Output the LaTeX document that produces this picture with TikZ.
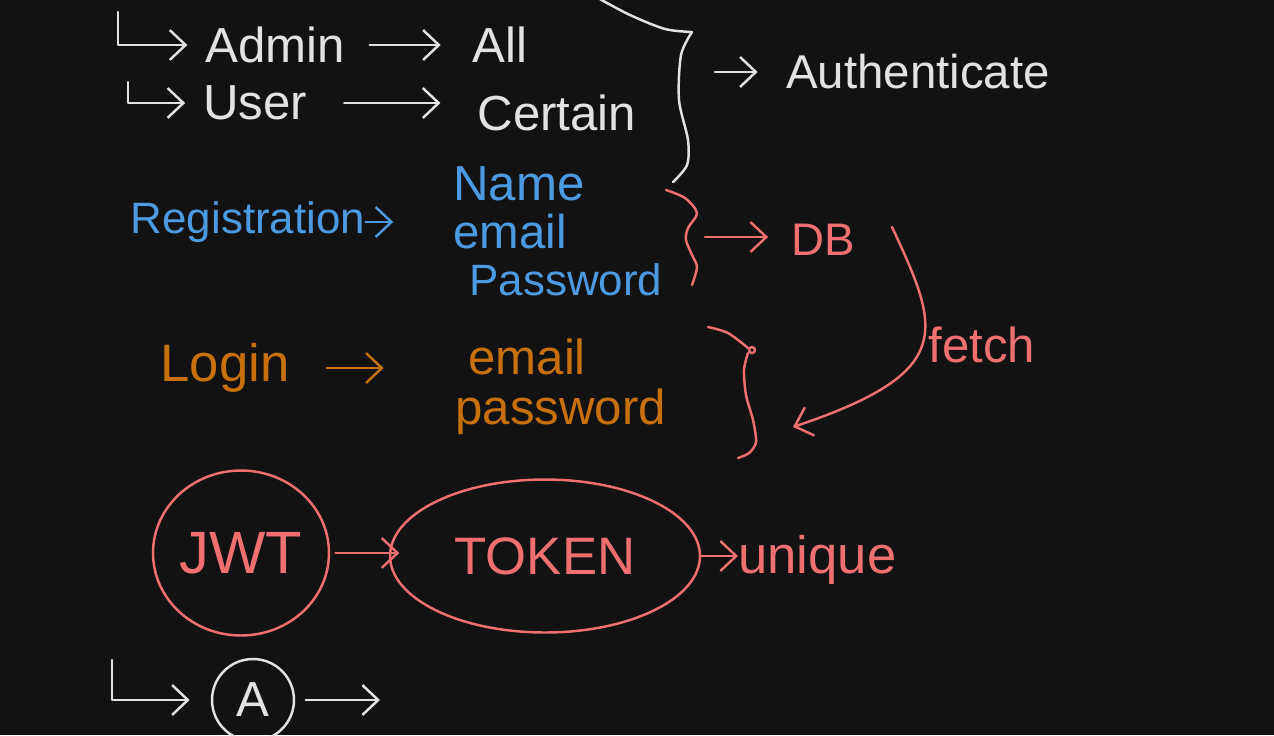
\documentclass[tikz,border=0pt]{standalone}
\usepackage{fontspec}
\setmainfont{Liberation Sans}
\usetikzlibrary{arrows.meta,shapes.geometric}

\definecolor{board}{HTML}{121212}
\definecolor{chalk}{HTML}{E2E2E2}
\definecolor{inkblue}{HTML}{4C9BE2}
\definecolor{inkorange}{HTML}{C8700C}
\definecolor{inkred}{HTML}{F07070}

\tikzset{
  >={Straight Barb[length=9pt,width=17pt]},
  pen/.style={line width=1.4pt, line cap=round, line join=round},
  word/.style={inner sep=0pt, font=\fontsize{#1}{#1}\selectfont},
  word/.default=28,
  blob/.style={ellipse, draw, pen, inkred},
}

\begin{document}
\begin{tikzpicture}[x=0.02cm,y=-0.02cm]
                \useasboundingbox (0,0) rectangle (1274,735);
                \fill[board] (0,0) rectangle (1274,735);

                \node[word, chalk] (admin) at (275,45) {Admin};
                \node[word, chalk] (all) at (500,45) {All};
                \node[word, chalk] (user) at (255,103) {User};
                \node[word, chalk] (certain) at (557,113) {Certain};
                \node[word=27, chalk] (auth) at (918,72) {Authenticate};
                \coordinate (adminL) at (118,12);
                \coordinate (userL) at (128,82);
                \coordinate (wb) at (715,72);

                \draw[pen, chalk, ->] (adminL) |- ([xshift=-10pt]admin.west);
                \draw[pen, chalk, ->] (userL) |- ([xshift=-10pt]user.west);
                \draw[pen, chalk, ->, shorten <=14pt, shorten >=18pt] (admin.east) -- (admin.east -| all.west);
                \draw[pen, chalk, ->, shorten <=21pt, shorten >=21pt] (user.east) -- (user.east -| certain.west);
                \draw[pen, chalk] plot[smooth] coordinates {(598,-2) (630,15) (665,29) (692,32)};
                \draw[pen, chalk] plot[smooth] coordinates {(692,32) (681,55) (679,100) (688,140) (687,165) (673,182)};
                \draw[pen, chalk, ->, shorten >=16pt] (wb) -- (wb -| auth.west);

                \node[word=25, inkblue] (reg) at (248,222) {Registration};
                \node[word=28, inkblue, anchor=west] (name) at (453,184) {Name};
                \node[word=27, inkblue, anchor=west] (bemail) at (453,232) {email};
                \node[word=25, inkblue, anchor=west] (bpass) at (469,280) {Password};
                \draw[pen, inkblue, ->, shorten >=34pt] (reg.east) -- (reg.east -| bemail.west);

                \node[word=30, inkorange] (login) at (225,368) {Login};
                \node[word=28, inkorange, anchor=west] (oemail) at (468,357) {email};
                \node[word=28, inkorange, anchor=west] (opass) at (455,412) {password};
                \draw[pen, inkorange, ->, shorten <=21pt, shorten >=48pt] (login.east) -- (login.east -| oemail.west);

                \draw[pen, inkred] plot[smooth] coordinates {(666,190) (685,198) (697,213) (688,228) (686,240) (692,255) (697,267) (692,285)};
                \draw[pen, inkred] plot[smooth] coordinates {(708,327) (728,333) (748,348)};
                \draw[pen, inkred] (752,350) circle (3);
                \draw[pen, inkred] plot[smooth] coordinates {(748,353) (744,370) (746,395) (753,420) (756,442) (749,453) (738,458)};
                \node[word=26, inkred] (db) at (823,240) {DB};
                \node[word=28, inkred] (fetch) at (982,345) {fetch};
                \coordinate (rb) at (705,237);
                \coordinate (fs) at (892,227);
                \coordinate (fe) at (793,427);
                \draw[pen, inkred, ->, shorten >=13pt] (rb) -- (rb -| db.west);
                \draw[pen, inkred, ->] (fs) .. controls (940,330) and (957,372) .. (fe);

                \node[blob, word=34, minimum width=3.52cm, minimum height=3.3cm] (jwt) at (241,553) {JWT};
                \node[blob, word=30, minimum width=6.2cm, minimum height=3.06cm] (token) at (545,556) {TOKEN};
                \node[word=30, inkred, anchor=west] (unique) at (738,560) {unique};
                \draw[pen, inkred, ->, shorten <=3pt, shorten >=-6pt] (jwt.east) -- (jwt.east -| token.west);
                \draw[pen, inkred, ->] (token.east) -- (token.east -| unique.west);

                \node[circle, draw, pen, chalk, word, minimum size=1.64cm] (acirc) at (253,700) {A};
                \coordinate (aL) at (112,660);
                \coordinate (aend) at (380,708);
                \draw[pen, chalk, ->, shorten >=12pt] (aL) |- (acirc.west);
                \draw[pen, chalk, ->, shorten <=6pt] (acirc.east) -- (acirc.east -| aend);
            \end{tikzpicture}
\end{document}
